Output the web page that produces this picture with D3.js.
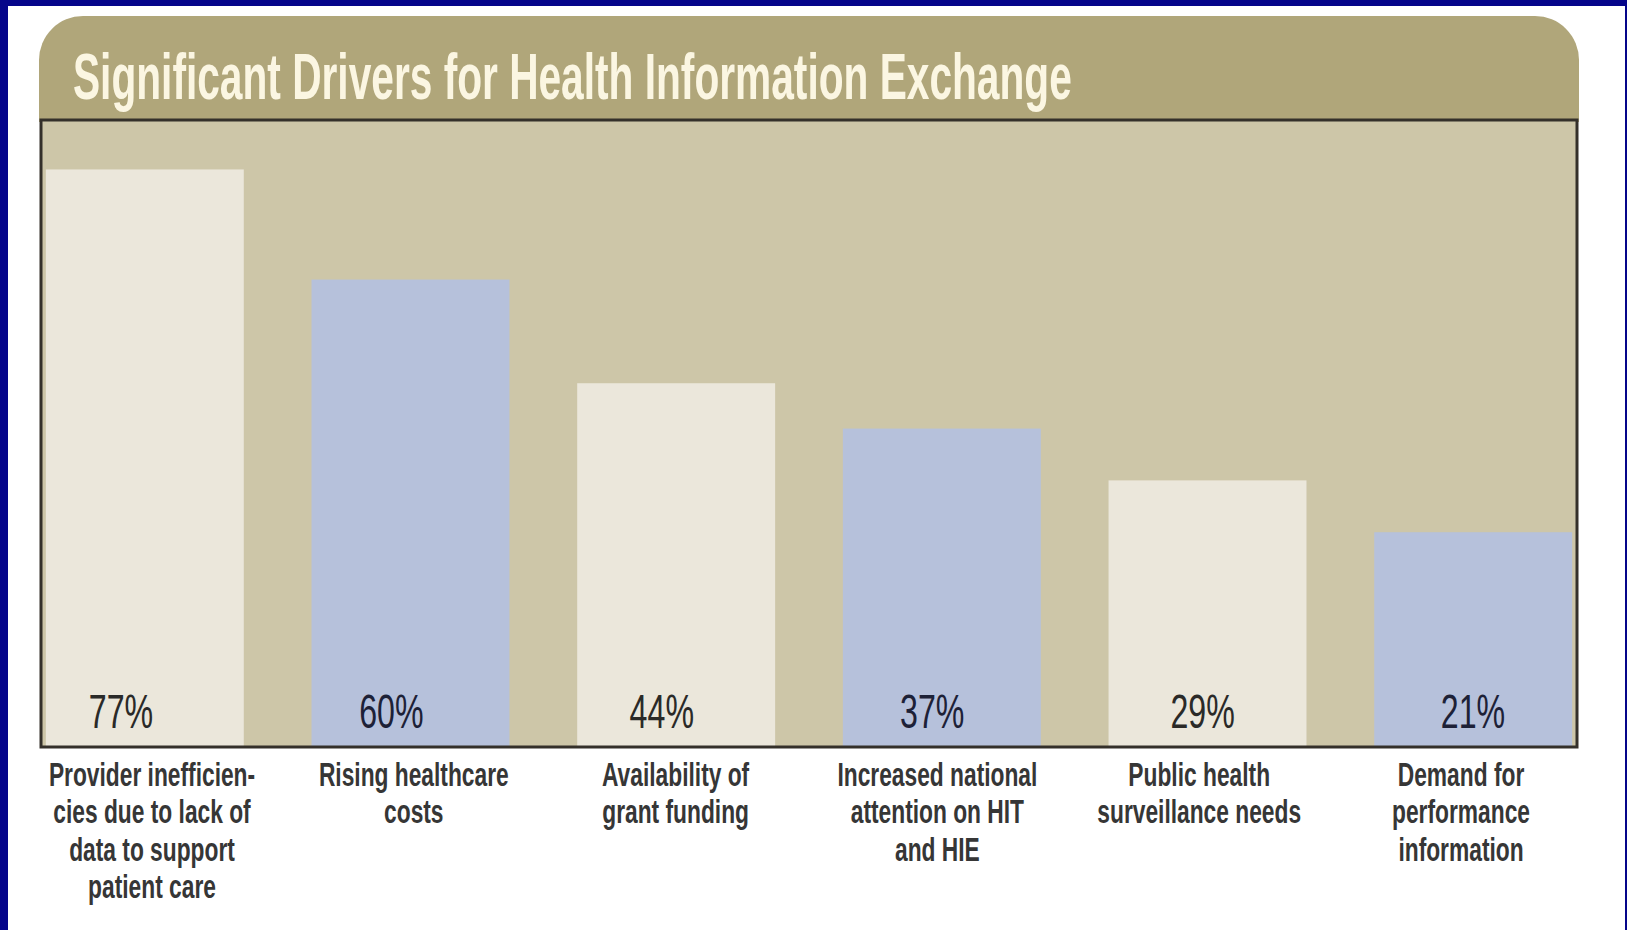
<!DOCTYPE html>
<html>
<head>
<meta charset="utf-8">
<script src="https://cdn.jsdelivr.net/npm/d3@7"></script>
<style>
  html, body { margin: 0; padding: 0; background: #05058a; }
  svg { display: block; }
</style>
</head>
<body>
<svg id="chart" width="1627" height="930"></svg>
<script>
// Survey results: share of respondents citing each driver
const categories = [
  "Provider inefficiencies",
  "Rising healthcare costs",
  "Grant funding",
  "National attention",
  "Public health surveillance",
  "Performance information"
];
const values = [77, 60, 44, 37, 29, 21];
const valueLabels = ["77%", "60%", "44%", "37%", "29%", "21%"];
const categoryLabels = [
  ["Provider inefficien-", "cies due to lack of", "data to support", "patient care"],
  ["Rising healthcare", "costs"],
  ["Availability of", "grant funding"],
  ["Increased national", "attention on HIT", "and HIE"],
  ["Public health", "surveillance needs"],
  ["Demand for", "performance", "information"]
];
const titleText = "Significant Drivers for Health Information Exchange";

const W = 1627, H = 930;
const frame = { left: 41, top: 120, right: 1577, bottom: 747 };
const FONT = "'Liberation Sans Narrow', 'Arial Narrow', 'Liberation Sans', sans-serif";

const svg = d3.select("#chart");

// page: blue slide edge with white card
svg.append("rect").attr("width", W).attr("height", H).attr("fill", "#05058a");
svg.append("rect").attr("x", 8).attr("y", 6).attr("width", W - 10).attr("height", H - 6).attr("fill", "#ffffff");

// title banner with rounded top corners
const hx0 = 39, hx1 = 1579, hy0 = 16, hy1 = frame.top + 2, r = 44;
const banner = d3.path();
banner.moveTo(hx0, hy1);
banner.lineTo(hx0, hy0 + r);
banner.arcTo(hx0, hy0, hx0 + r, hy0, r);
banner.lineTo(hx1 - r, hy0);
banner.arcTo(hx1, hy0, hx1, hy0 + r, r);
banner.lineTo(hx1, hy1);
banner.closePath();
svg.append("path").attr("d", banner.toString()).attr("fill", "#b0a67a");

// plot background
svg.append("rect")
  .attr("x", frame.left).attr("y", frame.top)
  .attr("width", frame.right - frame.left).attr("height", frame.bottom - frame.top)
  .attr("fill", "#cdc6a8");

// scales
const x = d3.scaleBand()
  .domain(categories)
  .range([40, 1578])
  .paddingInner(0.255)
  .paddingOuter(0.022);

const y = d3.scaleLinear()
  .domain([-12, 80])
  .range([frame.bottom - 1, 150]);

const valueX = d3.scalePoint().domain(categories).range([121, 1473]);
const labelX = d3.scalePoint().domain(categories).range([152, 1461]);

const barFill = ["#ebe7db", "#b6c1db"];
const valueFill = ["#2a2a28", "#1d2137"];

// bars
svg.append("g")
  .selectAll("rect")
  .data(values)
  .join("rect")
  .attr("x", (d, i) => x(categories[i]))
  .attr("y", d => y(d))
  .attr("width", x.bandwidth())
  .attr("height", d => y(-12) - y(d))
  .attr("fill", (d, i) => barFill[i % 2]);

// frame around plot
svg.append("rect")
  .attr("x", frame.left).attr("y", frame.top)
  .attr("width", frame.right - frame.left).attr("height", frame.bottom - frame.top)
  .attr("fill", "none")
  .attr("stroke", "#34302a")
  .attr("stroke-width", 3);

// condensed text: a group positioned at (cx, cy) and squeezed horizontally by k
function condensedText(parent, cx, cy, k, str, attrs) {
  const g = parent.append("g").attr("transform", `translate(${cx},${cy}) scale(${k},1)`);
  const t = g.append("text").attr("x", 0).attr("y", 0).attr("font-family", FONT).text(str);
  Object.entries(attrs).forEach(([key, v]) => t.attr(key, v));
  return t;
}

// title: squeezed to span the banner's text width
{
  const probe = svg.append("text")
    .attr("font-family", FONT).attr("font-size", 64).attr("font-weight", "bold")
    .text(titleText);
  const natural = probe.node().getComputedTextLength();
  probe.remove();
  condensedText(svg, 73, 99, 999 / natural, titleText, {
    "font-size": 64, "font-weight": "bold", "fill": "#fbf6e2"
  });
}

// value labels at the bar feet
const valueG = svg.append("g");
valueLabels.forEach((str, i) => {
  condensedText(valueG, valueX(categories[i]), 728, 0.67, str, {
    "font-size": 48, "text-anchor": "middle", "fill": valueFill[i % 2]
  });
});

// category labels under the frame
const labG = svg.append("g");
categoryLabels.forEach((lines, i) => {
  lines.forEach((line, j) => {
    condensedText(labG, labelX(categories[i]), 786 + j * 37.4, 0.67, line, {
      "font-size": 34, "font-weight": "bold", "text-anchor": "middle", "fill": "#363636"
    });
  });
});
</script>
</body>
</html>
